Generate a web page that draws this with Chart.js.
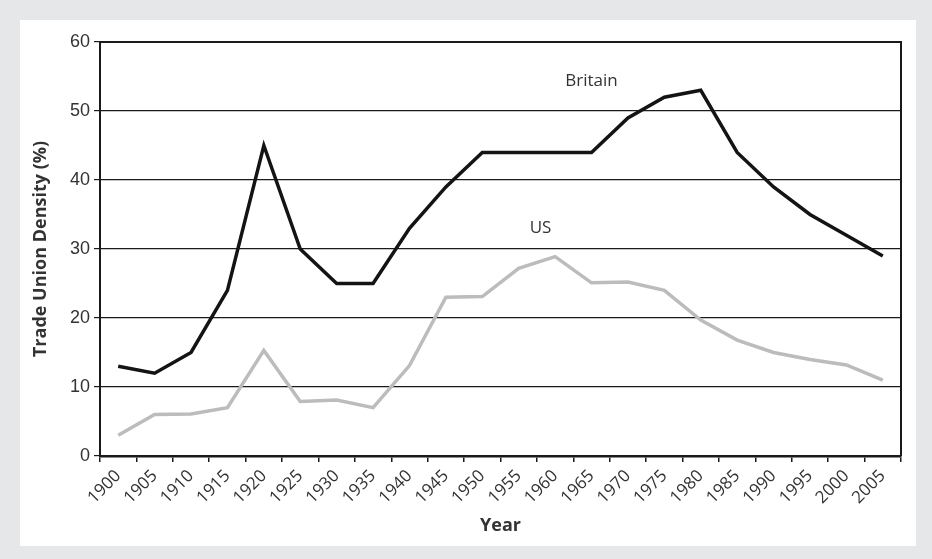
<!DOCTYPE html>
<html>
<head>
<meta charset="utf-8">
<script src="https://cdn.jsdelivr.net/npm/chart.js@4"></script>
<style>
  html, body { margin: 0; padding: 0; background: #e6e7e8; }
  #wrap { width: 932px; height: 559px; }
</style>
</head>
<body>
<div id="wrap"><canvas id="density" width="932" height="559"></canvas></div>
<script>
const years = ['1900', '1905', '1910', '1915', '1920', '1925', '1930', '1935', '1940', '1945', '1950',
  '1955', '1960', '1965', '1970', '1975', '1980', '1985', '1990', '1995', '2000', '2005']
const britain = [13, 12, 15, 24, 45, 30, 25, 25, 33, 39, 44, 44, 44, 44, 49, 52, 53, 44, 39, 35, 32, 29]
const us = [3, 6, 6.1, 7, 15.3, 7.9, 8.1, 7, 13.1, 23, 23.1, 27.2, 28.9, 25.1, 25.2, 24, 19.7, 16.8, 15, 14, 13.2, 11]
const yTicks = [0, 10, 20, 30, 40, 50, 60]

const ctx = document.getElementById('density').getContext('2d');

// fondo gris + panel blanco, borde superior/derecho y nombres de series
const decor = {
    id: 'decor',
    beforeDraw(chart) {
        const c = chart.ctx
        c.save()
        c.fillStyle = '#e6e7e8'
        c.fillRect(0, 0, chart.width, chart.height)
        c.fillStyle = '#ffffff'
        c.fillRect(20, 20, 896, 526)
        c.restore()
    },
    afterDraw(chart) {
        const c = chart.ctx
        const a = chart.chartArea
        const x = chart.scales.x, y = chart.scales.y
        c.save()
        c.strokeStyle = '#1a1a1a'
        c.lineWidth = 2
        c.beginPath()
        c.moveTo(a.left, a.top)
        c.lineTo(a.right, a.top)
        c.lineTo(a.right, a.bottom)
        c.stroke()
        c.fillStyle = '#333'
        c.font = '17px "Open Sans", sans-serif'
        c.textAlign = 'center'
        c.textBaseline = 'middle'
        c.fillText('Britain', x.getPixelForValue(13.0), y.getPixelForValue(54.3))
        c.fillText('US', x.getPixelForValue(11.6), y.getPixelForValue(33.0))
        c.restore()
    }
}

new Chart(ctx, {
    type: 'line',
    data: {
        labels: years,
        datasets: [{
            label: 'Britain',
            data: britain,
            borderColor: '#141414',
            borderWidth: 3.5,
            pointRadius: 0,
            tension: 0
        }, {
            label: 'US',
            data: us,
            borderColor: '#bcbcbc',
            borderWidth: 3.5,
            pointRadius: 0,
            tension: 0
        }]
    },
    options: {
        responsive: false,
        animation: false,
        layout: { padding: { left: 20, right: 31, top: 42, bottom: 13 } },
        scales: {
            x: {
                offset: true,
                grid: {
                    offset: true,
                    drawOnChartArea: false,
                    drawTicks: true,
                    tickLength: 6,
                    color: '#1a1a1a',
                    lineWidth: 1.5
                },
                border: { color: '#1a1a1a', width: 2.5 },
                ticks: {
                    minRotation: 45,
                    maxRotation: 45,
                    color: '#333',
                    padding: 4,
                    font: { family: '"Open Sans", sans-serif', size: 17 }
                },
                title: {
                    display: true,
                    text: 'Year',
                    color: '#333',
                    padding: { top: 0, bottom: 9 },
                    font: { family: '"Open Sans", sans-serif', size: 18, weight: 'bold' }
                },
                afterFit(scale) { scale.height = 90 }
            },
            y: {
                min: 0,
                max: 60,
                afterBuildTicks(scale) { scale.ticks = yTicks.map(v => ({ value: v })) },
                grid: {
                    color: '#1a1a1a',
                    lineWidth: 1.2,
                    tickLength: 6
                },
                border: { color: '#1a1a1a', width: 2 },
                ticks: {
                    color: '#333',
                    padding: 4,
                    font: { family: '"Liberation Sans Narrow", "Liberation Sans", sans-serif', size: 18 }
                },
                title: {
                    display: true,
                    text: 'Trade Union Density (%)',
                    color: '#333',
                    padding: { top: 10, bottom: 0 },
                    font: { family: '"Open Sans", sans-serif', size: 18, weight: 'bold' }
                },
                afterFit(scale) { scale.width = 80 }
            }
        },
        plugins: {
            legend: { display: false },
            tooltip: { enabled: false }
        }
    },
    plugins: [decor]
});
</script>
</body>
</html>
